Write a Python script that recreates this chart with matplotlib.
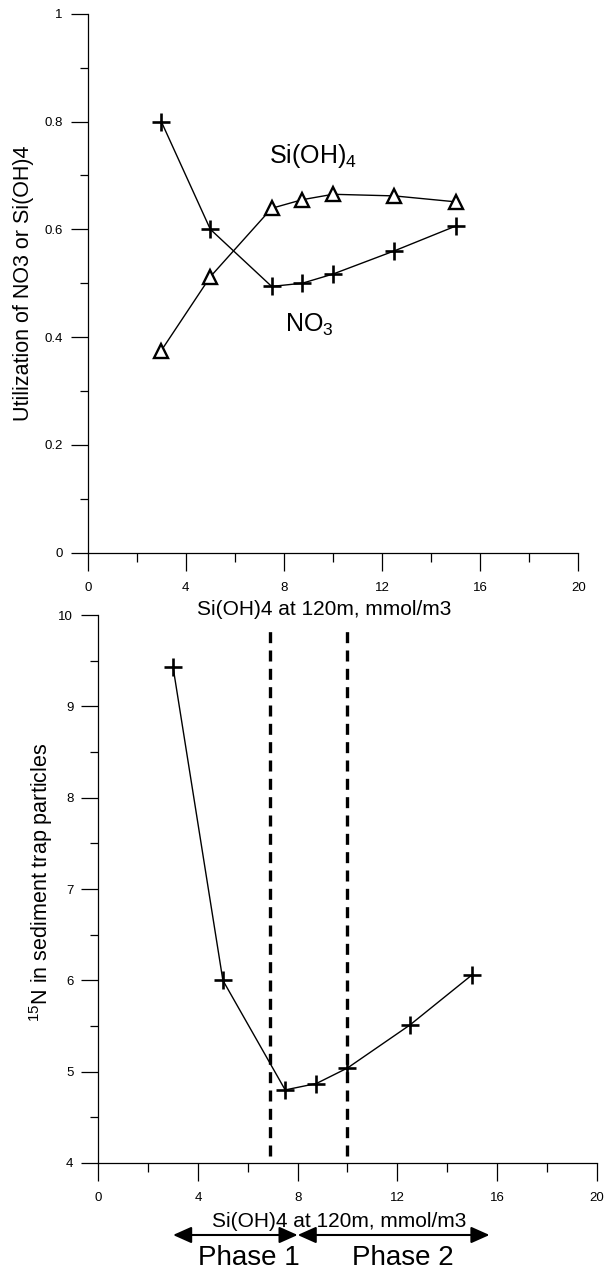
import numpy as np
from matplotlib import pyplot as plt
from matplotlib.ticker import MultipleLocator, FuncFormatter

plt.rcParams['font.family'] = ['Liberation Sans', 'DejaVu Sans']
plt.rcParams['mathtext.fontset'] = 'custom'
plt.rcParams['mathtext.rm'] = 'Liberation Sans'
plt.rcParams['mathtext.it'] = 'Liberation Sans'

# top panel: utilization vs Si(OH)4
si_x = [3, 5, 7.5, 8.75, 10, 12.5, 15]
no3_util = [0.80, 0.60, 0.494, 0.50, 0.517, 0.560, 0.606]
sioh4_util = [0.375, 0.512, 0.639, 0.655, 0.665, 0.662, 0.651]

# bottom panel: 15N in trap particles
n15 = [9.43, 6.0, 4.80, 4.87, 5.04, 5.51, 6.06]
phase_bounds = [6.9, 10.0]
phase_arrows = [(3.0, 8.0), (8.0, 15.7)]
phase_names = ['Phase 1', 'Phase 2']
phase_text_x = [6.04, 12.24]

xlab = 'Si(OH)4 at 120m, mmol/m3'

fig = plt.figure(figsize=(6.06, 12.72), dpi=100)
ax1 = fig.add_axes([0.1447, 0.5655, 0.8096, 0.4237])
ax2 = fig.add_axes([0.1622, 0.0857, 0.8224, 0.4308])
ax2.patch.set_visible(False)  # don't hide the top panel's xlabel

def style(ax):
    ax.spines['top'].set_visible(False)
    ax.spines['right'].set_visible(False)
    ax.spines['left'].set_linewidth(0.9)
    ax.spines['bottom'].set_linewidth(0.9)
    ax.xaxis.set_major_locator(MultipleLocator(4))
    ax.xaxis.set_minor_locator(MultipleLocator(2))
    ax.tick_params(axis='x', which='major', direction='out', length=13, width=0.9, pad=8, labelsize=9.5)
    ax.tick_params(axis='x', which='minor', direction='out', length=6.5, width=0.9)
    ax.tick_params(axis='y', which='major', direction='out', length=12, width=0.9, pad=6, labelsize=9.5)
    ax.tick_params(axis='y', which='minor', direction='out', length=6, width=0.9)
    ax.set_xlim(0, 20)
    ax.set_xlabel(xlab, fontsize=15)
    ax.xaxis.label.set_va('baseline')

# ---- top
style(ax1)
ax1.plot(si_x, no3_util, color='black', lw=1.0, marker='+', ms=13, mew=1.9)
ax1.plot(si_x, sioh4_util, color='black', lw=1.0, marker='^', ms=10.5, mew=1.7, mfc='white')
ax1.set_ylim(0, 1)
ax1.yaxis.set_major_locator(MultipleLocator(0.2))
ax1.yaxis.set_minor_locator(MultipleLocator(0.1))
ax1.yaxis.set_major_formatter(FuncFormatter(lambda v, p: '%g' % round(v, 2)))
ax1.set_ylabel('Utilization of NO3 or Si(OH)4', fontsize=15.5)
ax1.yaxis.label.set_va('baseline')
ax1.yaxis.set_label_coords(-0.1196, 0.5)
ax1.xaxis.set_label_coords(0.4817, -0.1156)
ax1.text(7.39, 0.7236, 'Si(OH)$_4$', fontsize=18)
ax1.text(8.06, 0.41, 'NO$_3$', fontsize=18)

# ---- bottom
style(ax2)
ax2.plot(si_x, n15, color='black', lw=1.0, marker='+', ms=13, mew=1.9)
ax2.vlines(phase_bounds, 4.077, 9.854, colors='black', lw=2.4, linestyles=(0, (3.3, 2.2)))
ax2.set_ylim(4, 10)
ax2.yaxis.set_major_locator(MultipleLocator(1))
ax2.yaxis.set_minor_locator(MultipleLocator(0.5))
ax2.set_ylabel('$^{15}$N in sediment trap particles', fontsize=15.5)
ax2.yaxis.label.set_va('baseline')
ax2.yaxis.set_label_coords(-0.1009, 0.513)
ax2.xaxis.set_label_coords(0.4843, -0.1159)

trans = ax2.get_xaxis_transform()
for (x0, x1) in phase_arrows:
    ax2.annotate('', xy=(x1, -0.1314), xytext=(x0, -0.1314), xycoords=trans, textcoords=trans,
                 annotation_clip=False,
                 arrowprops=dict(arrowstyle='<|-|>,head_length=0.56,head_width=0.25', mutation_scale=20,
                                 lw=1.5, color='black', shrinkA=0, shrinkB=0))
for tx, name in zip(phase_text_x, phase_names):
    ax2.text(tx, -0.1861, name, transform=trans, fontsize=20, ha='center', va='baseline')

plt.savefig('out.png', dpi=100)
